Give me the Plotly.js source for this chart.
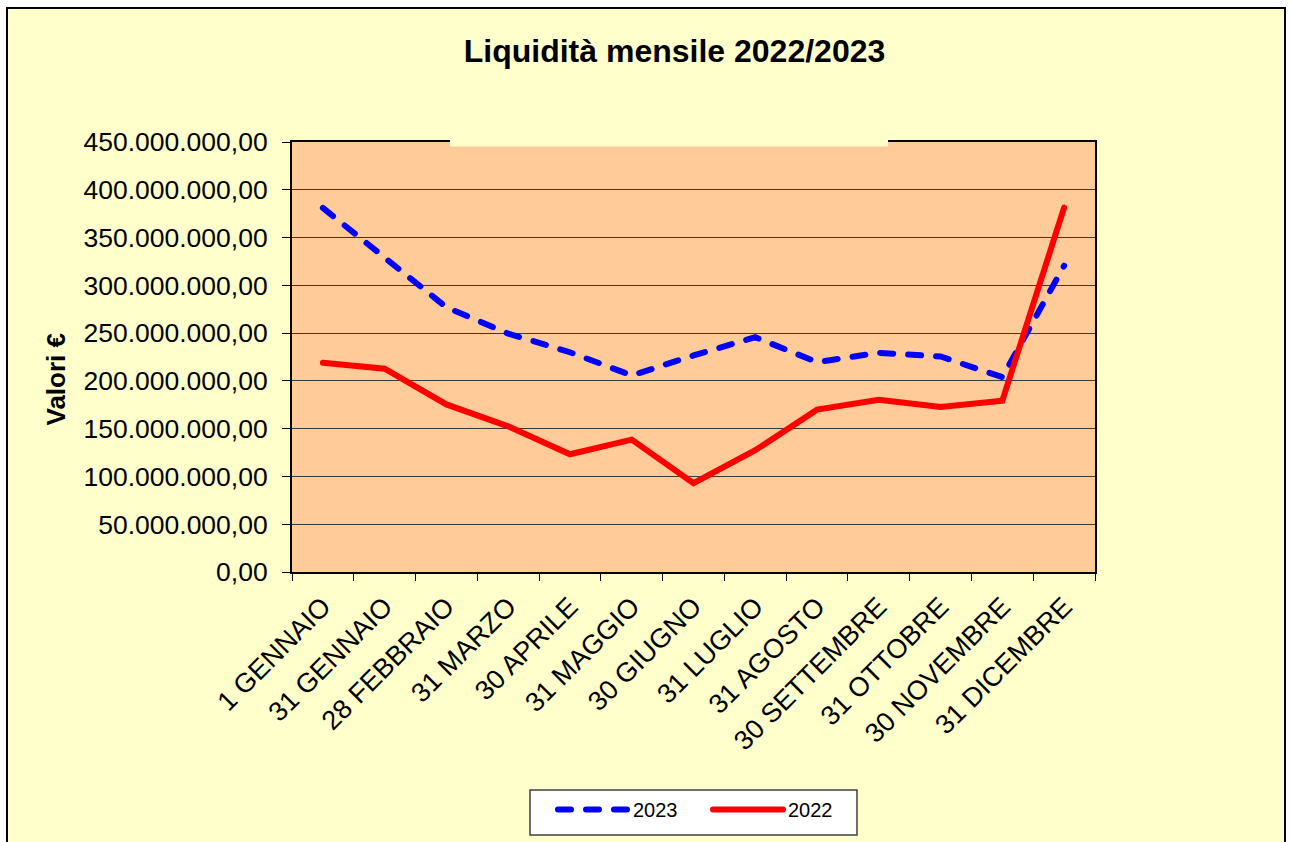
<!DOCTYPE html>
<html>
<head>
<meta charset="utf-8">
<script src="https://cdn.plot.ly/plotly-3.0.1.min.js"></script>
<style>
  html, body { margin: 0; padding: 0; background: #ffffff; width: 1292px; height: 842px; overflow: hidden; }
  #frame { position: absolute; left: 6px; top: 7px; width: 1280px; height: 845px; background: #FFFFCC; border: 2px solid #000; box-sizing: border-box; }
  #chart { position: absolute; left: 0; top: 0; width: 1292px; height: 842px; }
  .scatterlayer path.js-line, .legend path.js-line { stroke-linecap: round; }
</style>
</head>
<body>
<div id="frame"></div>
<div id="chart"></div>
<script>
const categories = ["1 GENNAIO", "31 GENNAIO", "28 FEBBRAIO", "31 MARZO", "30 APRILE", "31 MAGGIO",
  "30 GIUGNO", "31 LUGLIO", "31 AGOSTO", "30 SETTEMBRE", "31 OTTOBRE", "30 NOVEMBRE", "31 DICEMBRE"];
const values2023 = [381000000, 329000000, 277000000, 249500000, 230000000, 205700000,
  226600000, 245700000, 219600000, 229400000, 225500000, 203900000, 320500000];
const values2022 = [219000000, 212700000, 175400000, 152400000, 123200000, 138500000,
  93000000, 127400000, 169900000, 180300000, 172600000, 179300000, 381400000];
const yTicks = [0, 50000000, 100000000, 150000000, 200000000, 250000000, 300000000, 350000000, 400000000, 450000000];

const FONT = '"Liberation Sans", Arial, sans-serif';
const L = 292, T = 142, PW = 803, PH = 430;
const px = v => (v - L) / PW;
const py = v => (T + PH - v) / PH;

const traces = [
  { type: 'scatter', mode: 'lines', name: '2023', x: categories, y: values2023,
    line: { color: '#0000FF', width: 6, dash: '13px,15px' } },
  { type: 'scatter', mode: 'lines', name: '2022', x: categories, y: values2022,
    line: { color: '#FF0000', width: 6 } }
];

const layout = {
  width: 1292, height: 842,
  margin: { l: L, r: 1292 - L - PW, t: T, b: 842 - T - PH },
  paper_bgcolor: 'rgba(0,0,0,0)',
  plot_bgcolor: '#FFCC99',
  separators: ',.',
  font: { family: FONT, color: '#000' },
  title: { text: 'Liquidità mensile 2022/2023', font: { family: FONT, size: 32, color: '#000', weight: 'bold' },
           x: 674.5 / 1292, xref: 'container', xanchor: 'center', y: 1 - 51 / 842, yanchor: 'middle' },
  xaxis: {
    type: 'category', range: [-0.5, 12.5], tickson: 'boundaries',
    showgrid: false, showline: true, mirror: true, linecolor: '#000', linewidth: 2,
    ticks: 'outside', ticklen: 7, tickcolor: '#000', tickwidth: 1,
    ticklabelstandoff: 6,
    tickangle: -45, tickfont: { family: FONT, size: 27, color: '#000' }
  },
  yaxis: {
    range: [0, 450000000], tickvals: yTicks, tickformat: ',.2f',
    showgrid: true, gridcolor: '#3a3a3a', gridwidth: 1, zeroline: false,
    showline: true, mirror: true, linecolor: '#000', linewidth: 2,
    ticks: 'outside', ticklen: 8, tickcolor: '#000', tickwidth: 1,
    ticklabelstandoff: 9,
    tickfont: { family: FONT, size: 26.5, color: '#000' }
  },
  showlegend: true,
  legend: {
    orientation: 'h', x: px(553), xanchor: 'left', y: py(790), yanchor: 'top',
    bgcolor: 'rgba(0,0,0,0)', borderwidth: 0,
    font: { family: FONT, size: 20, color: '#000' }, itemwidth: 70,
    entrywidth: 70
  },
  annotations: [
    { text: 'Valori €', textangle: -90, xref: 'paper', yref: 'paper',
      x: px(55.5), y: py(379), xanchor: 'center', yanchor: 'middle',
      showarrow: false, font: { family: FONT, size: 26, color: '#000', weight: 'bold' } }
  ],
  shapes: [
    { type: 'rect', xref: 'paper', yref: 'paper', layer: 'above',
      x0: px(450), x1: px(888), y0: py(146.5), y1: py(136),
      fillcolor: '#FFFFCC', line: { width: 0 } },
    { type: 'rect', xref: 'paper', yref: 'paper', layer: 'above',
      x0: px(530), x1: px(857), y0: py(835), y1: py(790),
      fillcolor: '#FFFFFF', line: { color: '#404040', width: 1.5 } }
  ]
};

Plotly.newPlot('chart', traces, layout, { displayModeBar: false, staticPlot: true });
</script>
</body>
</html>
